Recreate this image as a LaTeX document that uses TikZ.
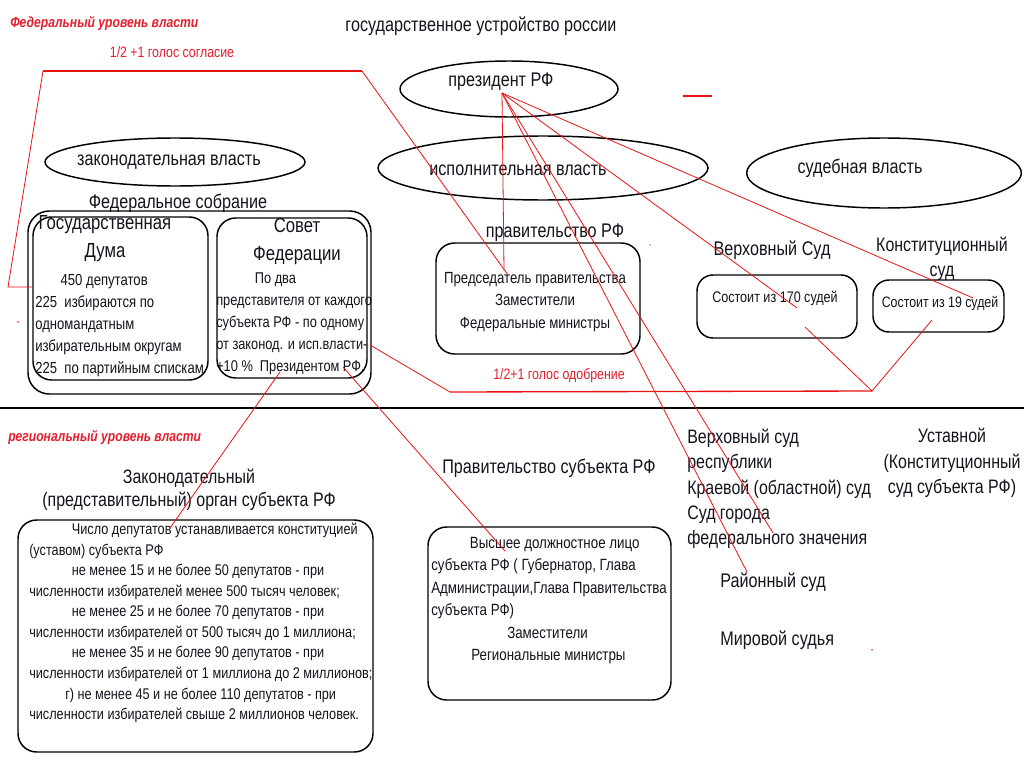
\documentclass[tikz,border=0pt]{standalone}
\usepackage{fontspec}
\setmainfont{Liberation Sans}[FakeStretch=0.82]
\usetikzlibrary{shapes.geometric}
\definecolor{myred}{RGB}{228,30,45}
\definecolor{lnred}{RGB}{232,20,20}
\definecolor{ink}{RGB}{20,20,30}
\begin{document}
\begin{tikzpicture}[x=0.75pt,y=-0.75pt,
 every node/.style={text=ink},
 big/.style={inner sep=0, font=\fontsize{14.8}{17}\selectfont},
 head/.style={inner sep=0, font=\fontsize{15.3}{21}\selectfont, align=center},
 mid/.style={inner sep=0, font=\fontsize{12}{16.5}\selectfont},
 sm/.style={inner sep=0, font=\fontsize{11.6}{15.4}\selectfont},
 rt/.style={inner sep=0, text=myred, font=\fontsize{11.3}{13}\selectfont},
 rh/.style={inner sep=0, text=myred, font=\fontsize{11.1}{13}\selectfont\bfseries\itshape},
 ell/.style={draw, ellipse, line width=1.1pt, inner sep=0},
 box/.style={draw, rounded corners=14pt, line width=1.1pt, inner sep=0},
 rl/.style={draw=lnred, line width=0.6pt},
 rlb/.style={draw=lnred, line width=1pt},
]
\useasboundingbox[fill=white] (0,0) rectangle (1024,767);

% ---------- headings ----------
\node[rh, anchor=west] (fedlvl) at (10,23) {Федеральный уровень власти};
\node[big] (title) at (481,26) {государственное устройство россии};
\node[rt] (sogl) at (172,52) {1/2 +1 голос согласие};

% ---------- ellipses ----------
\node[ell, minimum width=163.5pt, minimum height=42pt] (presE) at (509,89) {};
\node[big] (pres) at (501,82) {президент РФ};
\node[ell, minimum width=195pt, minimum height=36pt] (legE) at (175,162) {};
\node[big] (leg) at (169,162) {законодательная власть};
\node[ell, minimum width=247.5pt, minimum height=48pt] (exeE) at (543,168) {};
\node[big] (exe) at (518,170) {исполнительная власть};
\node[ell, minimum width=206pt, minimum height=52.5pt] (judE) at (884,173) {};
\node[big] (jud) at (860,168) {судебная власть};

% ---------- Federal assembly ----------
\node[big] (fs) at (178,203) {Федеральное собрание};
\node[box, rounded corners=16pt, minimum width=257.25pt, minimum height=137.25pt] (fsbox) at (199.5,302.5) {};
\node[box, minimum width=131.25pt, minimum height=122.25pt] (duma) at (120.5,298.5) {};
\node[box, minimum width=112.5pt, minimum height=120pt] (sovet) at (292,298) {};
\node[head] (dumaH) at (105,239) {Государственная\\Дума};
\node[head] (sovetH) at (297,241) {Совет\\Федерации};
\node[mid, align=left, anchor=north west] (dumaT) at (35,274)
 {\hspace*{19pt}450 депутатов\\225~~избираются по\\одномандатным\\избирательным округам\\225~~по партийным спискам};
\node[mid, align=left, anchor=north west, font=\fontsize{11.7}{16.5}\selectfont] (sovetT) at (216,272)
 {\hspace*{29pt}По два\\представителя от каждого\\субъекта РФ - по одному\\от законод. и исп.власти-\\+10 \%~~Президентом РФ.};

% ---------- Government ----------
\node[big] (govH) at (555,233) {правительство РФ};
\node[box, minimum width=153pt, minimum height=83.25pt] (gov) at (538,298.5) {};
\node[mid, align=center, font=\fontsize{12.1}{16.9}\selectfont] (govT) at (535,302)
 {Председатель правительства\\Заместители\\Федеральные министры};

% ---------- Courts ----------
\node[big] (vsH) at (772,250) {Верховный Суд};
\node[box, rounded corners=12pt, minimum width=120pt, minimum height=47.25pt] (vs) at (777,306.5) {};
\node[mid, font=\fontsize{11.5}{13}\selectfont] (vsT) at (775,298) {Состоит из 170 судей};
\node[big, align=center, font=\fontsize{14.6}{18.5}\selectfont] (ksH) at (942,259) {Конституционный\\суд};
\node[box, rounded corners=12pt, minimum width=98.25pt, minimum height=39pt] (ks) at (938.5,306) {};
\node[mid, font=\fontsize{11.3}{13}\selectfont] (ksT) at (940,303) {Состоит из 19 судей};

\node[rt] (odobr) at (559,376) {1/2+1 голос одобрение};

% ---------- separator ----------
\coordinate (sepL) at (0,408);
\coordinate (sepR) at (1024,408);
\draw[line width=1.4pt] (sepL) -- (sepR);

% ---------- regional level ----------
\node[rh, anchor=west] (reglvl) at (8,437) {региональный уровень власти};
\node[big, align=center, font=\fontsize{14.6}{17.5}\selectfont] (rlegH) at (189,489.5) {Законодательный\\(представительный) орган субъекта РФ};
\node[box, minimum width=266.25pt, minimum height=174pt] (rleg) at (195.5,636) {};
\node[sm, align=left, anchor=north west] (rlegT) at (29,523)
 {\hspace*{32pt}Число депутатов устанавливается конституцией\\
  (уставом) субъекта РФ\\
  \hspace*{32pt}не менее 15 и не более 50 депутатов - при\\
  численности избирателей менее 500 тысяч человек;\\
  \hspace*{32pt}не менее 25 и не более 70 депутатов - при\\
  численности избирателей от 500 тысяч до 1 миллиона;\\
  \hspace*{32pt}не менее 35 и не более 90 депутатов - при\\
  численности избирателей от 1 миллиона до 2 миллионов;\\
  \hspace*{27pt}г) не менее 45 и не более 110 депутатов - при\\
  численности избирателей свыше 2 миллионов человек.};

\node[big] (rgovH) at (549,468) {Правительство субъекта РФ};
\node[box, minimum width=182.25pt, minimum height=129.75pt] (rgov) at (549.5,613.5) {};
\node[mid, align=left, anchor=north west, font=\fontsize{12.2}{16.8}\selectfont] (rgovT) at (431,537)
 {\hspace*{29pt}Высшее должностное лицо\\
  субъекта РФ ( Губернатор, Глава\\
  Администрации,Глава Правительства\\
  субъекта РФ)\\
  \hspace*{57pt}Заместители\\
  \hspace*{30pt}Региональные министры};

\node[big, align=left, anchor=north west, font=\fontsize{14.6}{18.9}\selectfont] (rcourts) at (687,429)
 {Верховный суд\\республики\\Краевой (областной) суд\\Суд города\\федерального значения};
\node[big, align=center, font=\fontsize{14.6}{19}\selectfont] (rks) at (952,463)
 {Уставной\\(Конституционный\\суд субъекта РФ)};
\node[big, anchor=west] (rayon) at (720,582) {Районный суд};
\node[big, anchor=west] (mir) at (720,640) {Мировой судья};

% ---------- red connectors ----------
\coordinate (pP) at (502,93);
\coordinate (cPred) at (504,270);
\coordinate (c170) at (797,308);
\coordinate (c19) at (973,298);
\coordinate (cSudG) at (773,533);
\coordinate (cRayon) at (747,572);
\draw[rl] (pP) -- (cPred);
\draw[rl] (pP) -- (c170);
\draw[rl] (pP) -- (c19);
\draw[rl] (pP) -- (cSudG);
\draw[rl] (pP) -- (cRayon);

\coordinate (cSog1) at (43,71);
\coordinate (cSog2) at (362,71);
\coordinate (cSogL) at (8,287);
\coordinate (cPredA) at (508,275);
\draw[rlb] (cSog2) -- (cSog1);
\draw[rl] (cSog1) -- (cSogL) -- (cSogL -| duma.west);
\draw[rl] (cSog2) -- (cPredA);

\coordinate (cVlasti) at (370,345);
\coordinate (cOd1) at (450,392);
\coordinate (cOd2) at (872,391);
\coordinate (c170b) at (805,327);
\coordinate (c19b) at (932,320);
\draw[rl] (cVlasti) -- (cOd1);
\draw[rlb] (cOd1) -- (cOd2);
\draw[rl] (c170b) -- (cOd2) -- (c19b);

\coordinate (cPrezSov) at (343,367);
\coordinate (cVys) at (505,551);
\draw[rl] (cPrezSov) -- (cVys);
\coordinate (cPrezSov2) at (280,372);
\coordinate (cZak) at (170,528);
\draw[rl] (cPrezSov2) -- (cZak);

\coordinate (dashA) at (683,96);
\coordinate (dashB) at (712,96);
\draw[rlb] (dashA) -- (dashB);
\fill[lnred] (18,322) circle (0.8);
\fill[lnred] (872,650) circle (0.8);
\fill[ink] (650,245) circle (0.6);
\end{tikzpicture}
\end{document}
